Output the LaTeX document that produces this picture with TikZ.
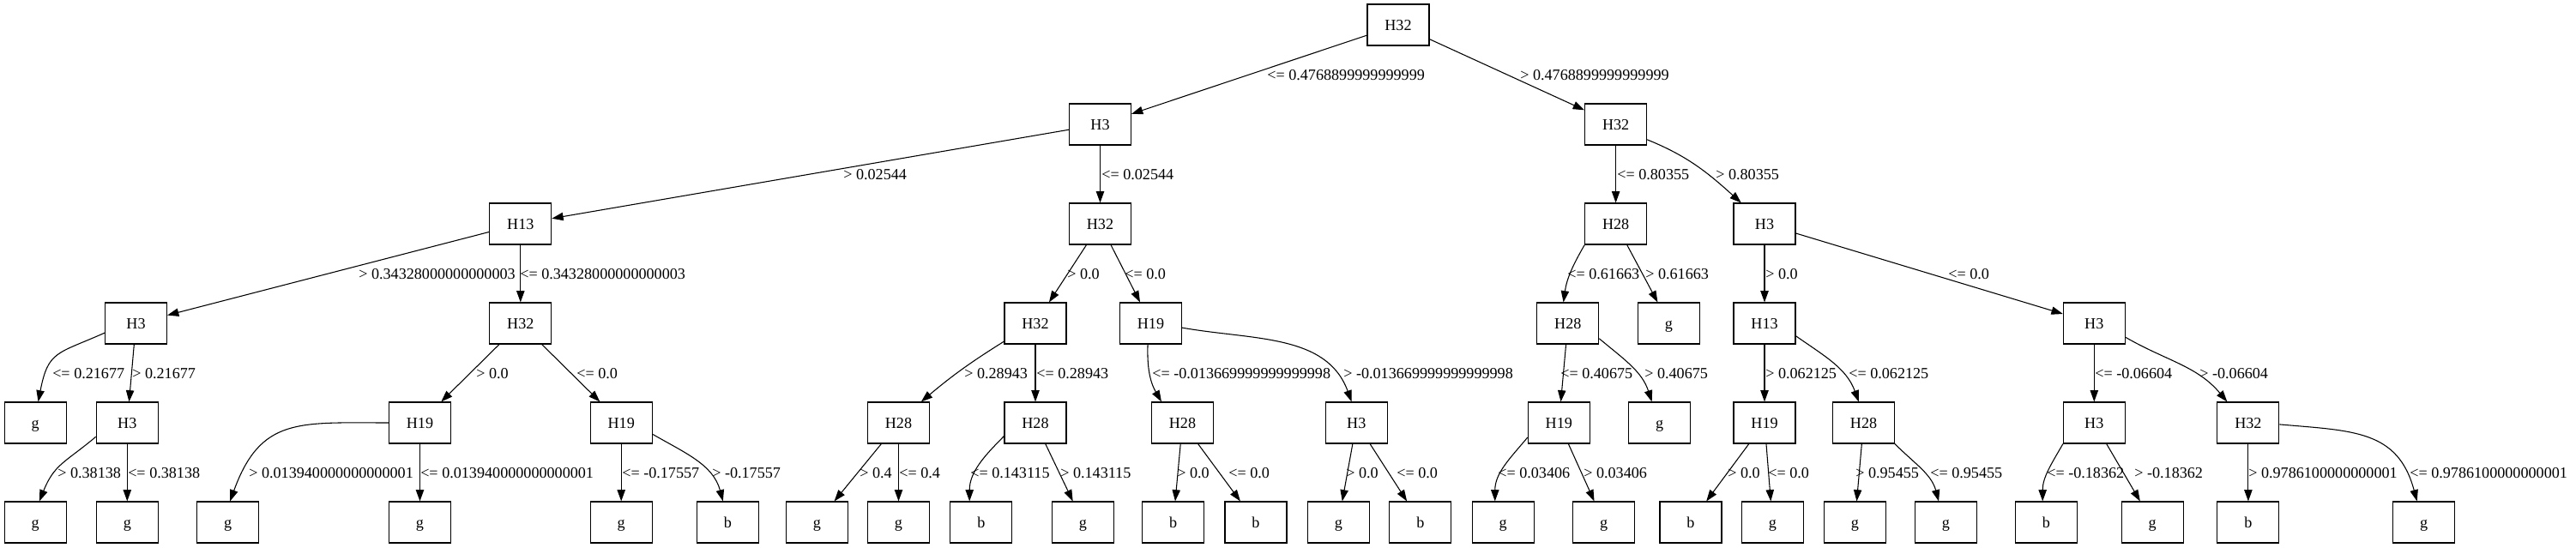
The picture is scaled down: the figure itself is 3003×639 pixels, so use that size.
\documentclass[tikz,border=0pt]{standalone}
\usepackage{fontspec}
\setmainfont{Liberation Serif}
\usetikzlibrary{arrows.meta}
\newcommand\gvfont{\fontsize{13.6pt}{16pt}\selectfont}
\begin{document}
\begin{tikzpicture}[x=0.75pt,y=0.75pt,
  box/.style={draw, line width=0.8pt, minimum width=54pt, minimum height=36pt, inner sep=0pt, text height=9.3pt, text depth=0pt, font=\gvfont},
  edge/.style={line width=0.8pt, -{Triangle[length=10pt,width=7pt]}},
  lab/.style={anchor=west, inner sep=0pt, text height=9.3pt, text depth=0pt, font=\gvfont}]
\useasboundingbox[fill=white] (0,0) rectangle (3003,-639);
% level 1
\node[box] (n0) at (1630,-29) {H32};
% level 2
\node[box] (n1) at (1282.5,-145) {H3};
\node[box] (n2) at (1883.6,-145) {H32};
% level 3
\node[box] (n3) at (606.8,-261) {H13};
\node[box] (n4) at (1282.5,-261) {H32};
\node[box] (n5) at (1883.6,-261) {H28};
\node[box] (n6) at (2057,-261) {H3};
% level 4
\node[box] (n7) at (158.5,-377) {H3};
\node[box] (n8) at (606.8,-377) {H32};
\node[box] (n9) at (1207,-377) {H32};
\node[box] (n10) at (1341.5,-377) {H19};
\node[box] (n11) at (1827.8,-377) {H28};
\node[box] (n12) at (1945.5,-377) {g};
\node[box] (n13) at (2057,-377) {H13};
\node[box] (n14) at (2441.3,-377) {H3};
% level 5
\node[box] (n15) at (41.1,-493) {g};
\node[box] (n16) at (148.3,-493) {H3};
\node[box] (n17) at (489.5,-493) {H19};
\node[box] (n18) at (724.2,-493) {H19};
\node[box] (n19) at (1047.5,-493) {H28};
\node[box] (n20) at (1207,-493) {H28};
\node[box] (n21) at (1378.5,-493) {H28};
\node[box] (n22) at (1581.3,-493) {H3};
\node[box] (n23) at (1817.3,-493) {H19};
\node[box] (n24) at (1934.6,-493) {g};
\node[box] (n25) at (2057,-493) {H19};
\node[box] (n26) at (2172.5,-493) {H28};
\node[box] (n27) at (2441.3,-493) {H3};
\node[box] (n28) at (2620.9,-493) {H32};
% level 6
\node[box] (l1) at (41.1,-609) {g};
\node[box] (l2) at (148.3,-609) {g};
\node[box] (l3) at (265.6,-609) {g};
\node[box] (l4) at (489.5,-609) {g};
\node[box] (l5) at (724.2,-609) {g};
\node[box] (l6) at (848.5,-609) {b};
\node[box] (l7) at (952.5,-609) {g};
\node[box] (l8) at (1047.5,-609) {g};
\node[box] (l9) at (1143.8,-609) {b};
\node[box] (l10) at (1262.4,-609) {g};
\node[box] (l11) at (1367.7,-609) {b};
\node[box] (l12) at (1464,-609) {b};
\node[box] (l13) at (1560.3,-609) {g};
\node[box] (l14) at (1655.9,-609) {b};
\node[box] (l15) at (1752.2,-609) {g};
\node[box] (l16) at (1869.6,-609) {g};
\node[box] (l17) at (1971,-609) {b};
\node[box] (l18) at (2066.3,-609) {g};
\node[box] (l19) at (2162.3,-609) {g};
\node[box] (l20) at (2268.5,-609) {g};
\node[box] (l21) at (2385.5,-609) {b};
\node[box] (l22) at (2509.2,-609) {g};
\node[box] (l23) at (2620.9,-609) {b};
\node[box] (l24) at (2825.6,-609) {g};
% edges
\draw[edge] (n0) -- (n1);
\draw[edge] (n0) -- (n2);
\draw[edge] (n1) -- (n3);
\draw[edge] (n1) -- (n4);
\draw[edge] (n2) -- (n5);
\draw[edge] (n2.-26) to[out=-22,in=138] (n6.138);
\draw[edge] (n3) -- (n7);
\draw[edge] (n3) -- (n8);
\draw[edge] (n4) -- (n9);
\draw[edge] (n4) -- (n10);
\draw[edge] (n5.214) to[out=240,in=82] (n11.102);
\draw[edge] (n5) -- (n12);
\draw[edge] (n6) -- (n13);
\draw[edge] (n6) -- (n14);
\draw[edge] (n7.197) to[out=204,in=79,looseness=1.4] (n15.82);
\draw[edge] (n7) -- (n16);
\draw[edge] (n8) -- (n17);
\draw[edge] (n8) -- (n18);
\draw[edge] (n9.210) to[out=212,in=40] (n19.43);
\draw[edge] (n9) -- (n20);
\draw[edge] (n10.-98) to[out=-92,in=120] (n21.135);
\draw[edge] (n10.-8) to[out=-10,in=110] (n22.103);
\draw[edge] (n11) -- (n23);
\draw[edge] (n11.-26) to[out=-40,in=108] (n24.110);
\draw[edge] (n13) -- (n25);
\draw[edge] (n13.-22) to[out=-35,in=110] (n26.103);
\draw[edge] (n14) -- (n27);
\draw[edge] (n14.-24) to[out=-30,in=130] (n28.135);
\draw[edge] (n16.204) to[out=220,in=68,looseness=1.2] (l1.79);
\draw[edge] (n16) -- (l2);
\draw[edge] (n17.180) to[out=180,in=70,looseness=1.3] (l3.84);
\draw[edge] (n17) -- (l4);
\draw[edge] (n18) -- (l5);
\draw[edge] (n18.-20) to[out=-30,in=105] (l6.103);
\draw[edge] (n19) -- (l7);
\draw[edge] (n19) -- (l8);
\draw[edge] (n20.203) to[out=225,in=90] (l9.119);
\draw[edge] (n20) -- (l10);
\draw[edge] (n21) -- (l11);
\draw[edge] (n21) -- (l12);
\draw[edge] (n22) -- (l13);
\draw[edge] (n22) -- (l14);
\draw[edge] (n23.205) to[out=230,in=90] (l15.111);
\draw[edge] (n23) -- (l16);
\draw[edge] (n25) -- (l17);
\draw[edge] (n25) -- (l18);
\draw[edge] (n26) -- (l19);
\draw[edge] (n26.-34) to[out=-45,in=105] (l20.109);
\draw[edge] (n27.214) to[out=240,in=90] (l21.100);
\draw[edge] (n27) -- (l22);
\draw[edge] (n28) -- (l23);
\draw[edge] (n28.-3) to[out=-5,in=105,looseness=1.2] (l24.108);
% labels
\node[lab] (e1) at (1477,-87) {<= 0.4768899999999999};
\node[lab] (e2) at (1772,-87) {> 0.4768899999999999};
\node[lab] (e3) at (983,-203) {> 0.02544};
\node[lab] (e4) at (1284,-203) {<= 0.02544};
\node[lab] (e5) at (1885,-203) {<= 0.80355};
\node[lab] (e6) at (2000,-203) {> 0.80355};
\node[lab] (e7) at (418,-319) {> 0.34328000000000003};
\node[lab] (e8) at (606,-319) {<= 0.34328000000000003};
\node[lab] (e9) at (1244,-319) {> 0.0};
\node[lab] (e10) at (1311,-319) {<= 0.0};
\node[lab] (e11) at (1827,-319) {<= 0.61663};
\node[lab] (e12) at (1918,-319) {> 0.61663};
\node[lab] (e13) at (2058,-319) {> 0.0};
\node[lab] (e14) at (2271,-319) {<= 0.0};
\node[lab] (e15) at (61,-435) {<= 0.21677};
\node[lab] (e16) at (154,-435) {> 0.21677};
\node[lab] (e17) at (555,-435) {> 0.0};
\node[lab] (e18) at (672,-435) {<= 0.0};
\node[lab] (e19) at (1124,-435) {> 0.28943};
\node[lab] (e20) at (1208,-435) {<= 0.28943};
\node[lab] (e21) at (1343,-435) {<= -0.013669999999999998};
\node[lab] (e22) at (1566,-435) {> -0.013669999999999998};
\node[lab] (e23) at (1819,-435) {<= 0.40675};
\node[lab] (e24) at (1917,-435) {> 0.40675};
\node[lab] (e25) at (2058,-435) {> 0.062125};
\node[lab] (e26) at (2155,-435) {<= 0.062125};
\node[lab] (e27) at (2442,-435) {<= -0.06604};
\node[lab] (e28) at (2564,-435) {> -0.06604};
\node[lab] (e29) at (67,-551) {> 0.38138};
\node[lab] (e30) at (149,-551) {<= 0.38138};
\node[lab] (e31) at (290,-551) {> 0.013940000000000001};
\node[lab] (e32) at (490,-551) {<= 0.013940000000000001};
\node[lab] (e33) at (725,-551) {<= -0.17557};
\node[lab] (e34) at (830,-551) {> -0.17557};
\node[lab] (e35) at (1002,-551) {> 0.4};
\node[lab] (e36) at (1048,-551) {<= 0.4};
\node[lab] (e37) at (1131,-551) {<= 0.143115};
\node[lab] (e38) at (1236,-551) {> 0.143115};
\node[lab] (e39) at (1372,-551) {> 0.0};
\node[lab] (e40) at (1432,-551) {<= 0.0};
\node[lab] (e41) at (1569,-551) {> 0.0};
\node[lab] (e42) at (1628,-551) {<= 0.0};
\node[lab] (e43) at (1746,-551) {<= 0.03406};
\node[lab] (e44) at (1846,-551) {> 0.03406};
\node[lab] (e45) at (2014,-551) {> 0.0};
\node[lab] (e46) at (2061,-551) {<= 0.0};
\node[lab] (e47) at (2163,-551) {> 0.95455};
\node[lab] (e48) at (2250,-551) {<= 0.95455};
\node[lab] (e49) at (2386,-551) {<= -0.18362};
\node[lab] (e50) at (2488,-551) {> -0.18362};
\node[lab] (e51) at (2621,-551) {> 0.9786100000000001};
\node[lab] (e52) at (2809,-551) {<= 0.9786100000000001};
\end{tikzpicture}
\end{document}
